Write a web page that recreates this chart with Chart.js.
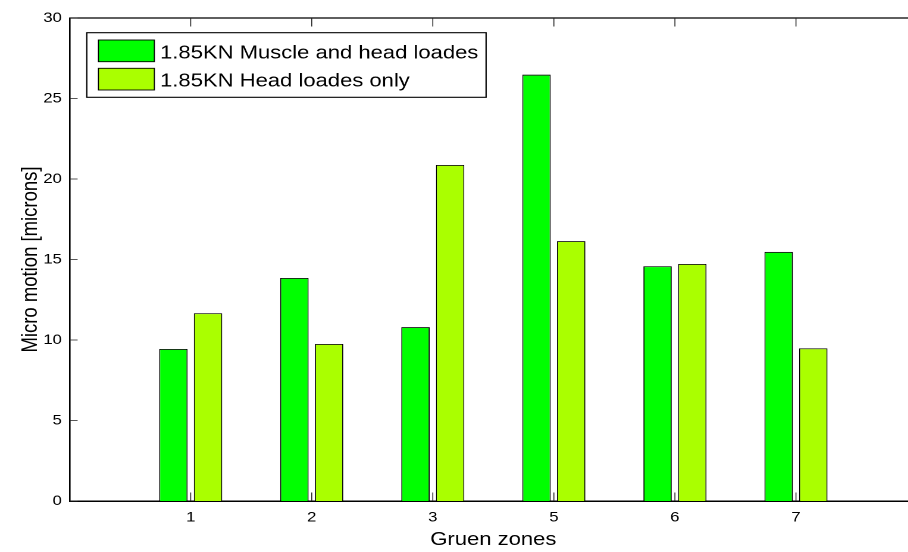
<!DOCTYPE html>
<html>
<head>
<meta charset="utf-8">
<script src="https://cdn.jsdelivr.net/npm/chart.js@4/dist/chart.umd.min.js"></script>
<style>
  html, body { margin: 0; padding: 0; background: #fff; overflow: hidden; }
  #wrap { width: 908px; height: 552px; overflow: hidden; }
</style>
</head>
<body>
<!-- the figure is drawn at a narrower logical width and widened on screen -->
<div id="wrap"><canvas id="c" width="773" height="552" style="display:block;width:920px;height:552px"></canvas></div>
<script>
// Gruen zones on the x axis
const zones = ['1', '2', '3', '5', '6', '7'];
// micro motion in microns
const muscleAndHead = [9.44, 13.85, 10.80, 26.48, 14.58, 15.47];
const headOnly = [11.66, 9.75, 20.87, 16.14, 14.72, 9.48];
const seriesNames = ['1.85KN Muscle and head loades', '1.85KN Head loades only'];
const seriesColors = ['#00ff00', '#aaff00'];
const yMin = 0, yMax = 30, yStep = 5;

const FONT = '"Liberation Sans", Arial, Helvetica, sans-serif';
Chart.defaults.font.family = FONT;
Chart.defaults.color = '#000';

const toPoints = vals => vals.map((v, i) => ({ x: i + 1, y: v }));

// white page, top edge of the box and inward tick marks
const boxAndTicks = {
  id: 'boxAndTicks',
  beforeDraw(chart) {
    const ctx = chart.ctx;
    ctx.save();
    ctx.fillStyle = '#fff';
    ctx.fillRect(0, 0, chart.width, chart.height);
    ctx.restore();
  },
  afterDatasetsDraw(chart) {
    const { ctx, scales: { x, y } } = chart;
    const left = x.getPixelForValue(x.min), right = x.getPixelForValue(x.max);
    const top = y.getPixelForValue(y.max), bottom = y.getPixelForValue(y.min);
    ctx.save();
    ctx.strokeStyle = '#000';
    ctx.lineWidth = 1.3;
    ctx.beginPath();
    ctx.moveTo(left, top);
    ctx.lineTo(right, top);
    ctx.stroke();

    ctx.lineWidth = 0.8;
    ctx.strokeStyle = '#222';
    ctx.beginPath();
    zones.forEach((z, i) => {
      const px = x.getPixelForValue(i + 1);
      ctx.moveTo(px, bottom); ctx.lineTo(px, bottom - 8.5);
      ctx.moveTo(px, top); ctx.lineTo(px, top + 8.5);
    });
    y.ticks.forEach(t => {
      const py = y.getPixelForValue(t.value);
      ctx.moveTo(left, py); ctx.lineTo(left + 6.7, py);
    });
    ctx.stroke();
    ctx.restore();
  }
};

// boxed legend in the upper left corner of the plot
const boxedLegend = {
  id: 'boxedLegend',
  afterDraw(chart) {
    const { ctx, chartArea: a } = chart;
    const left = a.left + 14.4, top = a.top + 14.7;
    const w = 335.5, h = 64.6;
    ctx.save();
    ctx.fillStyle = '#fff';
    ctx.fillRect(left, top, w, h);
    ctx.strokeStyle = '#000';
    ctx.lineWidth = 1.1;
    ctx.strokeRect(left, top, w, h);
    ctx.font = '18.5px ' + FONT;
    ctx.textBaseline = 'alphabetic';
    ctx.textAlign = 'left';
    chart.data.datasets.forEach((ds, i) => {
      const sy = top + 7.3 + i * 28.3;
      ctx.fillStyle = ds.backgroundColor;
      ctx.fillRect(left + 9.8, sy, 47, 21.7);
      ctx.lineWidth = 0.9;
      ctx.strokeStyle = '#000';
      ctx.strokeRect(left + 9.8, sy, 47, 21.7);
      ctx.fillStyle = '#000';
      ctx.fillText(ds.label, left + 61.6, sy + 18.3);
    });
    ctx.restore();
  }
};

new Chart(document.getElementById('c'), {
  type: 'bar',
  data: {
    datasets: [
      {
        label: seriesNames[0],
        data: toPoints(muscleAndHead),
        backgroundColor: seriesColors[0],
        borderColor: '#000',
        borderWidth: 0.9,
        categoryPercentage: 0.573,
        barPercentage: 0.818
      },
      {
        label: seriesNames[1],
        data: toPoints(headOnly),
        backgroundColor: seriesColors[1],
        borderColor: '#000',
        borderWidth: 0.9,
        categoryPercentage: 0.573,
        barPercentage: 0.818
      }
    ]
  },
  options: {
    responsive: false,
    devicePixelRatio: 2,
    animation: false,
    layout: { padding: { top: 18, right: 2.5, left: 0, bottom: 0 } },
    plugins: { legend: { display: false }, tooltip: { enabled: false } },
    scales: {
      x: {
        type: 'linear',
        min: 0,
        max: zones.length + 1,
        offset: false,
        grid: {
          display: true,
          drawOnChartArea: false,
          drawTicks: true,
          tickLength: 8,
          color: 'rgba(0,0,0,0)',
          offset: false
        },
        border: { display: true, color: '#000', width: 1.5 },
        ticks: {
          stepSize: 1,
          padding: 0,
          autoSkip: false,
          maxRotation: 0,
          font: { size: 14 },
          callback: v => (Number.isInteger(v) && v >= 1 && v <= zones.length) ? zones[v - 1] : ''
        },
        title: {
          display: true,
          text: 'Gruen zones',
          font: { size: 18.5 },
          padding: { top: 0, bottom: 1 }
        },
        afterFit: s => { s.height = 51; }
      },
      y: {
        min: yMin,
        max: yMax,
        grid: { display: false, drawTicks: false },
        border: { display: true, color: '#000', width: 1.3 },
        ticks: { stepSize: yStep, padding: 6.6, font: { size: 14 } },
        title: {
          display: true,
          text: 'Micro motion [microns]',
          font: { size: 18.5 },
          padding: { top: 14.7, bottom: 0 }
        },
        afterFit: s => { s.width = 58.5; }
      }
    }
  },
  plugins: [boxAndTicks, boxedLegend]
});
</script>
</body>
</html>
